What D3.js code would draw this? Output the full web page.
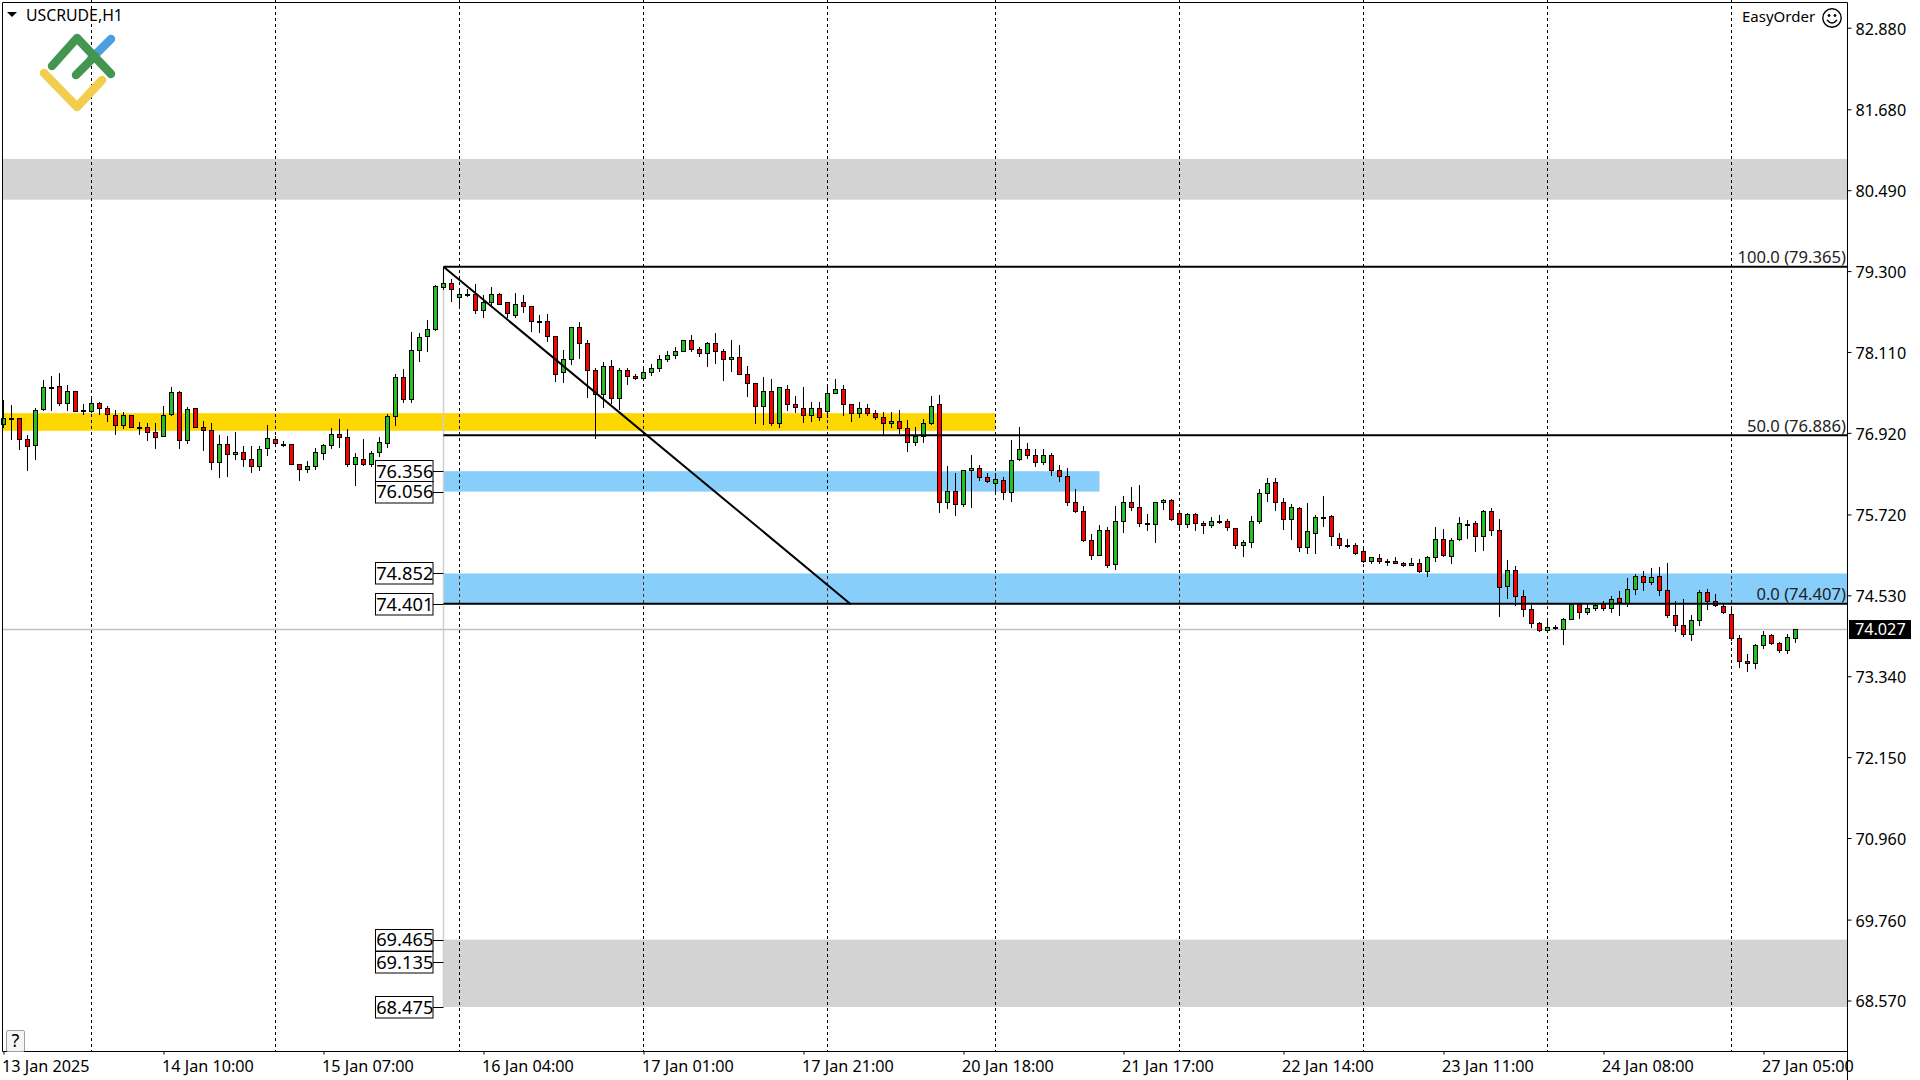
<!DOCTYPE html>
<html>
<head>
<meta charset="utf-8">
<title>USCRUDE,H1</title>
<script src="https://cdnjs.cloudflare.com/ajax/libs/d3/7.8.5/d3.min.js"></script>
<style>
html,body{margin:0;padding:0;background:#fff;overflow:hidden}
svg{display:block}
text{font-family:"Noto Sans",sans-serif;fill:#000}
</style>
</head>
<body>
<svg id="chart" width="1920" height="1080"></svg>
<script>
const barOpen=[77.05,77.14,77.14,76.83,76.74,77.27,77.60,77.61,77.36,77.54,77.25,77.24,77.36,77.29,77.18,77.04,77.18,77.00,77.01,76.93,
76.87,77.20,77.52,76.81,77.29,77.01,76.96,76.49,76.76,76.61,76.64,76.54,76.43,76.70,76.83,76.76,76.76,76.46,76.39,76.43,
76.62,76.74,76.90,76.86,76.46,76.54,76.46,76.64,76.77,77.17,77.74,77.42,78.14,78.34,78.45,79.06,79.12,78.92,78.97,78.96,
78.72,78.84,78.97,78.84,78.66,78.84,78.79,78.57,78.56,78.34,77.81,78.01,78.48,78.24,77.84,77.49,77.90,77.44,77.84,77.76,
77.72,77.82,77.88,78.01,78.07,78.13,78.28,78.16,78.09,78.24,78.12,78.01,78.04,77.79,77.65,77.32,77.53,77.06,77.57,77.34,
77.29,77.19,77.28,77.24,77.51,77.57,77.34,77.21,77.28,77.21,77.16,77.06,77.10,76.99,76.79,76.87,77.07,77.34,75.91,76.06,
75.88,76.38,76.41,76.27,76.18,76.22,76.05,76.53,76.68,76.60,76.49,76.59,76.38,76.28,75.91,75.77,75.35,75.13,75.49,74.99,
75.63,75.91,75.83,75.60,75.58,75.90,75.93,75.74,75.58,75.72,75.60,75.56,75.62,75.62,75.52,75.27,75.31,75.63,76.03,76.19,
75.90,75.66,75.81,75.24,75.44,75.68,75.69,75.38,75.27,75.27,75.18,75.03,75.08,75.03,75.03,75.01,74.98,75.01,74.89,75.09,
75.36,75.11,75.36,75.58,75.59,75.40,75.77,75.49,74.67,74.90,74.52,74.33,74.12,74.02,74.06,74.03,74.18,74.40,74.29,74.34,
74.40,74.34,74.49,74.42,74.62,74.81,74.73,74.81,74.61,74.24,74.09,73.96,74.17,74.58,74.45,74.37,74.26,73.90,73.56,73.54,
73.80,73.95,73.83,73.73,73.90];
const barHigh=[77.41,77.33,77.14,76.89,77.28,77.70,77.75,77.80,77.63,77.54,77.34,77.42,77.37,77.32,77.25,77.23,77.18,77.08,77.06,77.06,
77.32,77.59,77.54,77.30,77.29,77.09,77.07,76.89,76.88,76.94,76.73,76.73,76.73,77.04,76.87,76.80,76.76,76.46,76.50,76.70,
76.76,76.99,77.12,76.97,76.62,76.83,76.66,76.86,77.20,77.78,77.86,78.40,78.39,78.58,79.10,79.365,79.19,79.04,79.04,79.11,
78.95,79.06,78.98,78.84,78.98,78.95,78.79,78.65,78.67,78.35,78.14,78.48,78.55,78.29,77.88,77.96,77.99,77.88,77.87,77.78,
77.87,77.93,78.06,78.12,78.18,78.28,78.36,78.18,78.25,78.39,78.16,78.29,78.21,77.91,77.65,77.74,77.71,77.60,77.62,77.46,
77.60,77.37,77.38,77.60,77.71,77.63,77.35,77.38,77.34,77.26,77.22,77.22,77.25,77.11,77.00,77.13,77.46,77.48,76.43,76.33,
76.38,76.59,76.45,76.33,76.33,76.27,76.81,77.00,76.77,76.68,76.68,76.63,76.44,76.40,76.10,75.84,75.43,75.57,75.53,75.84,
75.99,76.12,76.16,75.72,75.91,75.95,75.94,75.75,75.74,75.74,75.62,75.68,75.71,75.65,75.52,75.34,75.69,76.10,76.25,76.25,
75.96,75.87,75.83,75.89,75.71,75.99,75.71,75.44,75.36,75.30,75.21,75.10,75.14,75.07,75.09,75.02,75.08,75.06,75.11,75.53,
75.50,75.37,75.68,75.64,75.62,75.78,75.81,75.65,75.05,74.96,74.61,74.39,74.14,74.15,74.09,74.20,74.40,74.42,74.40,74.42,
74.44,74.52,74.59,74.79,74.84,74.89,74.93,74.95,75.01,74.45,74.48,74.24,74.61,74.62,74.55,74.40,74.34,73.95,73.67,73.82,
74.00,73.96,73.84,73.96,74.03];
const barLow=[77.01,76.83,76.68,76.38,76.53,77.25,77.26,77.33,77.25,77.24,77.20,77.22,77.20,77.10,76.91,76.99,77.00,76.91,76.82,76.69,
76.87,77.18,76.69,76.77,77.00,76.67,76.39,76.27,76.28,76.53,76.43,76.35,76.38,76.60,76.76,76.72,76.46,76.23,76.34,76.39,
76.53,76.70,76.71,76.43,76.15,76.45,76.43,76.58,76.71,77.04,77.38,77.38,77.98,78.13,78.43,79.03,78.86,78.80,78.93,78.69,
78.63,78.80,78.81,78.62,78.63,78.70,78.42,78.41,78.27,77.69,77.67,77.94,78.02,77.45,76.85,77.30,77.36,77.27,77.64,77.71,
77.71,77.77,77.83,77.97,78.02,78.13,78.13,78.05,77.91,77.95,77.70,77.83,77.78,77.46,77.07,77.05,77.04,77.01,77.25,77.22,
77.08,77.10,77.11,77.15,77.50,77.18,77.10,77.15,77.18,77.13,76.89,77.01,76.92,76.66,76.74,76.78,77.05,75.76,75.82,75.71,
75.85,75.83,76.23,76.20,76.07,75.95,75.92,76.52,76.55,76.43,76.46,76.30,76.21,75.86,75.76,75.33,75.07,75.13,74.94,74.92,
75.46,75.78,75.55,75.49,75.32,75.80,75.64,75.50,75.54,75.49,75.45,75.54,75.59,75.49,75.23,75.11,75.24,75.59,75.92,75.79,
75.51,75.36,75.18,75.15,75.15,75.55,75.27,75.23,75.24,75.14,75.02,75.01,75.01,74.97,75.00,74.96,74.97,74.87,74.82,75.04,
75.11,75.01,75.34,75.37,75.18,75.19,75.42,74.22,74.49,74.39,74.22,74.07,74.00,74.01,74.03,73.82,74.18,74.19,74.26,74.31,
74.31,74.28,74.24,74.38,74.55,74.61,74.69,74.53,74.21,74.00,73.93,73.88,74.09,74.33,74.38,74.27,73.87,73.47,73.41,73.46,
73.75,73.81,73.70,73.68,73.84];
const barClose=[77.14,77.14,76.83,76.73,77.26,77.59,77.60,77.36,77.54,77.24,77.25,77.36,77.29,77.20,77.04,77.18,77.01,77.00,76.93,76.86,
77.18,77.52,76.82,77.27,77.01,76.96,76.49,76.76,76.61,76.64,76.54,76.43,76.68,76.85,76.77,76.76,76.46,76.39,76.43,76.64,
76.74,76.90,76.86,76.46,76.57,76.46,76.62,76.79,77.17,77.74,77.42,78.14,78.33,78.45,79.08,79.12,79.03,78.97,78.97,78.72,
78.84,78.97,78.82,78.68,78.82,78.79,78.57,78.57,78.35,77.79,78.01,78.48,78.24,77.84,77.49,77.90,77.44,77.84,77.75,77.72,
77.82,77.88,78.01,78.07,78.13,78.28,78.16,78.09,78.24,78.12,78.01,78.04,77.79,77.66,77.32,77.53,77.06,77.59,77.34,77.30,
77.19,77.29,77.15,77.51,77.56,77.34,77.21,77.28,77.21,77.16,77.06,77.10,76.99,76.79,76.87,77.07,77.32,75.91,76.06,75.88,
76.38,76.41,76.27,76.21,76.24,76.05,76.52,76.68,76.60,76.49,76.59,76.38,76.28,75.91,75.77,75.35,75.13,75.49,74.97,75.63,
75.91,75.83,75.60,75.58,75.90,75.93,75.65,75.58,75.72,75.60,75.56,75.62,75.62,75.53,75.27,75.31,75.63,76.03,76.18,75.90,
75.66,75.83,75.24,75.47,75.68,75.68,75.40,75.27,75.27,75.16,75.03,75.09,75.03,75.03,75.01,74.97,75.01,74.89,75.09,75.36,
75.12,75.34,75.59,75.58,75.40,75.77,75.49,74.65,74.90,74.52,74.33,74.12,74.02,74.06,74.06,74.18,74.40,74.29,74.34,74.39,
74.34,74.48,74.43,74.62,74.81,74.73,74.80,74.61,74.24,74.09,73.96,74.17,74.58,74.45,74.39,74.28,73.90,73.56,73.54,73.80,
73.95,73.83,73.73,73.92,74.03];

const priceTicks=[82.88,81.68,80.49,79.30,78.11,76.92,75.72,74.53,73.34,72.15,70.96,69.76,68.57];
const timeTickBars=[0,20,40,60,80,100,120,140,160,180,200,220];
const timeTickLabels=["13 Jan 2025","14 Jan 10:00","15 Jan 07:00","16 Jan 04:00","17 Jan 01:00","17 Jan 21:00","20 Jan 18:00","21 Jan 17:00","22 Jan 14:00","23 Jan 11:00","24 Jan 08:00","27 Jan 05:00"];
const daySeparatorBars=[11,34,57,80,103,124,147,170,193,216];

const zoneTop=[80.95,77.21,76.356,74.852,69.465];
const zoneBottom=[80.35,76.95,76.056,74.401,68.475];
const zoneStart=[-0.1,-0.1,55,55,55];
const zoneEnd=[230.5,124,137,230.5,230.5];
const zoneColors=["#d3d3d3","#ffd700","#87cefa","#87cefa","#d3d3d3"];
const zoneDashColors=["#000","#00008b","#000","#5a2a10","#000"];
const boxPrices=[76.356,76.056,74.852,74.401,69.465,69.135,68.475];
const fibLevels=["100.0","50.0","0.0"];
const fibPrices=[79.365,76.886,74.407];
const trendBars=[55,105.9];
const trendPrices=[79.365,74.40];
const lastPrice=74.027;
const anchorBar=55;

const svg=d3.select("#chart");
const W=1920,L=2.5,T=2.5,R=1847.5,B=1051.5;
const x=d3.scaleLinear().domain([0,225]).range([3.5,1803.5]);
const y=d3.scaleLinear().domain([82.88,68.57]).range([27.7,1000.5]);
const snap=v=>Math.round(v)+0.5;

// zones
svg.append("g").selectAll("rect").data(d3.range(zoneTop.length)).join("rect")
 .attr("x",i=>x(zoneStart[i])).attr("width",i=>Math.min(x(zoneEnd[i]),R)-x(zoneStart[i]))
 .attr("y",i=>y(zoneTop[i])).attr("height",i=>y(zoneBottom[i])-y(zoneTop[i]))
 .attr("fill",i=>zoneColors[i]);

// day separators
const gridG=svg.append("g");
gridG.selectAll("line").data(daySeparatorBars).join("line")
 .attr("x1",d=>x(d)).attr("x2",d=>x(d)).attr("y1",0).attr("y2",B)
 .attr("stroke","#000").attr("stroke-width",1).attr("stroke-dasharray","3,3");
daySeparatorBars.forEach(d=>{
  zoneTop.forEach((zt,k)=>{
    if(d>=zoneStart[k]&&d<zoneEnd[k]&&zoneDashColors[k]!=="#000"){
      const y1=y(zt),y2=y(zoneBottom[k]);
      gridG.append("line").attr("x1",x(d)).attr("x2",x(d)).attr("y1",y1).attr("y2",y2)
       .attr("stroke",zoneDashColors[k]).attr("stroke-width",1)
       .attr("stroke-dasharray","3,3").attr("stroke-dashoffset",y1%6);
    }
  });
});

// last price line + anchor vertical
const lastY=Math.floor(y(lastPrice))+0.5;
svg.append("line").attr("x1",L).attr("x2",R).attr("y1",lastY).attr("y2",lastY)
 .attr("stroke","#c0c0c0").attr("stroke-width",1.5);
svg.append("line").attr("x1",x(anchorBar)).attr("x2",x(anchorBar)).attr("y1",y(fibPrices[0])).attr("y2",y(zoneBottom[4]))
 .attr("stroke","#cfcfcf").attr("stroke-width",1.5);

// candles
const idx=d3.range(barOpen.length);
const cG=svg.append("g");
cG.selectAll("line").data(idx).join("line")
 .attr("x1",i=>x(i)).attr("x2",i=>x(i))
 .attr("y1",i=>Math.round(y(barHigh[i]))).attr("y2",i=>Math.round(y(barLow[i]))+1)
 .attr("stroke","#000").attr("stroke-width",1);
cG.selectAll("rect").data(idx).join("rect")
 .attr("x",i=>x(i)-2).attr("width",4)
 .attr("y",i=>snap(y(Math.max(barOpen[i],barClose[i]))))
 .attr("height",i=>Math.max(1,Math.round(y(Math.min(barOpen[i],barClose[i])))-Math.round(y(Math.max(barOpen[i],barClose[i])))))
 .attr("fill",i=>barClose[i]>=barOpen[i]?"#22c022":"#ff0000")
 .attr("stroke","#000").attr("stroke-width",1);

// fibonacci lines, labels, trend line
const fibG=svg.append("g");
fibG.selectAll("line").data(fibPrices).join("line")
 .attr("x1",x(anchorBar)).attr("x2",R).attr("y1",d=>y(d)).attr("y2",d=>y(d))
 .attr("stroke","#000").attr("stroke-width",2);
fibG.selectAll("text").data(fibPrices).join("text")
 .attr("x",R-1.5).attr("y",d=>y(d)-3.5).attr("text-anchor","end")
 .attr("font-size",16.6).style("fill","#222")
 .text((d,i)=>`${fibLevels[i]} (${d.toFixed(3)})`);
svg.append("path")
 .attr("d",d3.line().x((d,i)=>x(trendBars[i])).y((d,i)=>y(trendPrices[i]))(trendBars))
 .attr("stroke","#000").attr("stroke-width",2).attr("fill","none");

// price boxes
const boxW=57.5,boxH=21.5,boxX=375.5;
const bG=svg.append("g").selectAll("g").data(boxPrices).join("g");
bG.append("line").attr("x1",boxX+boxW).attr("x2",x(anchorBar)).attr("y1",d=>snap(y(d))).attr("y2",d=>snap(y(d)))
 .attr("stroke","#000").attr("stroke-width",1);
bG.append("rect").attr("x",boxX).attr("width",boxW).attr("y",d=>snap(y(d)-11)).attr("height",boxH)
 .attr("fill","#fff").attr("stroke","#000").attr("stroke-width",1);
bG.append("text").attr("x",boxX+boxW/2+0.5).attr("y",d=>y(d)+6.7).attr("text-anchor","middle")
 .attr("font-size",18.3).text(d=>d.toFixed(3));

// frame
svg.append("path").attr("d",`M${L},${B}V${T}H${R}V${B+29}M${L},${B}H${R}`)
 .attr("fill","none").attr("stroke","#000").attr("stroke-width",1);

// price axis
const yAxis=d3.axisRight(y).tickValues(priceTicks).tickSize(4).tickPadding(4).tickFormat(d3.format(".3f"));
const yG=svg.append("g").attr("transform",`translate(${R},0)`).call(yAxis);
yG.select(".domain").remove();
yG.selectAll("text").attr("font-size",16.2).attr("dy","0.4em").style("font-family",'"Noto Sans",sans-serif');

// time axis
const tAxis=d3.axisBottom(x).tickValues(timeTickBars).tickSize(3).tickPadding(6).tickFormat((d,i)=>timeTickLabels[i]);
const tG=svg.append("g").attr("transform",`translate(0,${B})`).call(tAxis);
tG.select(".domain").remove();
tG.selectAll("text").attr("font-size",16.2).attr("text-anchor","start").attr("dx",-2).style("font-family",'"Noto Sans",sans-serif');

// last price tag
svg.append("rect").attr("x",1849).attr("y",y(lastPrice)-9.5).attr("width",62).attr("height",19).attr("fill","#000");
svg.append("text").attr("x",1855).attr("y",y(lastPrice)+5.5).attr("font-size",16.2).style("fill","#fff").text(lastPrice.toFixed(3));

// header
svg.append("path").attr("d","M7,12H17L12,17Z").attr("fill","#000");
svg.append("text").attr("x",26).attr("y",20.5).attr("font-size",15.8).text("USCRUDE,H1");
svg.append("text").attr("x",1742).attr("y",21.5).attr("font-size",15).text("EasyOrder");
const smile=svg.append("g").attr("transform","translate(1832,18)").attr("fill","none").attr("stroke","#000");
smile.append("circle").attr("r",9.2).attr("stroke-width",1.4);
smile.append("circle").attr("cx",-3).attr("cy",-2.5).attr("r",1).attr("fill","#000");
smile.append("circle").attr("cx",3).attr("cy",-2.5).attr("r",1).attr("fill","#000");
smile.append("path").attr("d","M-5,2Q0,8 5,2").attr("stroke-width",1.4);

// logo
const logo=svg.append("g").attr("fill","none").attr("stroke-width",8.5).attr("stroke-linecap","round").attr("stroke-linejoin","round");
logo.append("path").attr("d","M91,59L111,39").attr("stroke","#4a9fe0");
logo.append("path").attr("d","M44,73L77,107L102,80").attr("stroke","#f3cd4e");
logo.append("path").attr("d","M52,66L77,38L111,74M76,75L95,56").attr("stroke","#43964f");

// help button
svg.append("rect").attr("x",6.5).attr("y",1030.5).attr("width",18).attr("height",21).attr("rx",1.5)
 .attr("fill","#f5f5f5").attr("stroke","#a0a0a0");
svg.append("text").attr("x",15.5).attr("y",1047).attr("text-anchor","middle").attr("font-size",18).text("?");
</script>
</body>
</html>
